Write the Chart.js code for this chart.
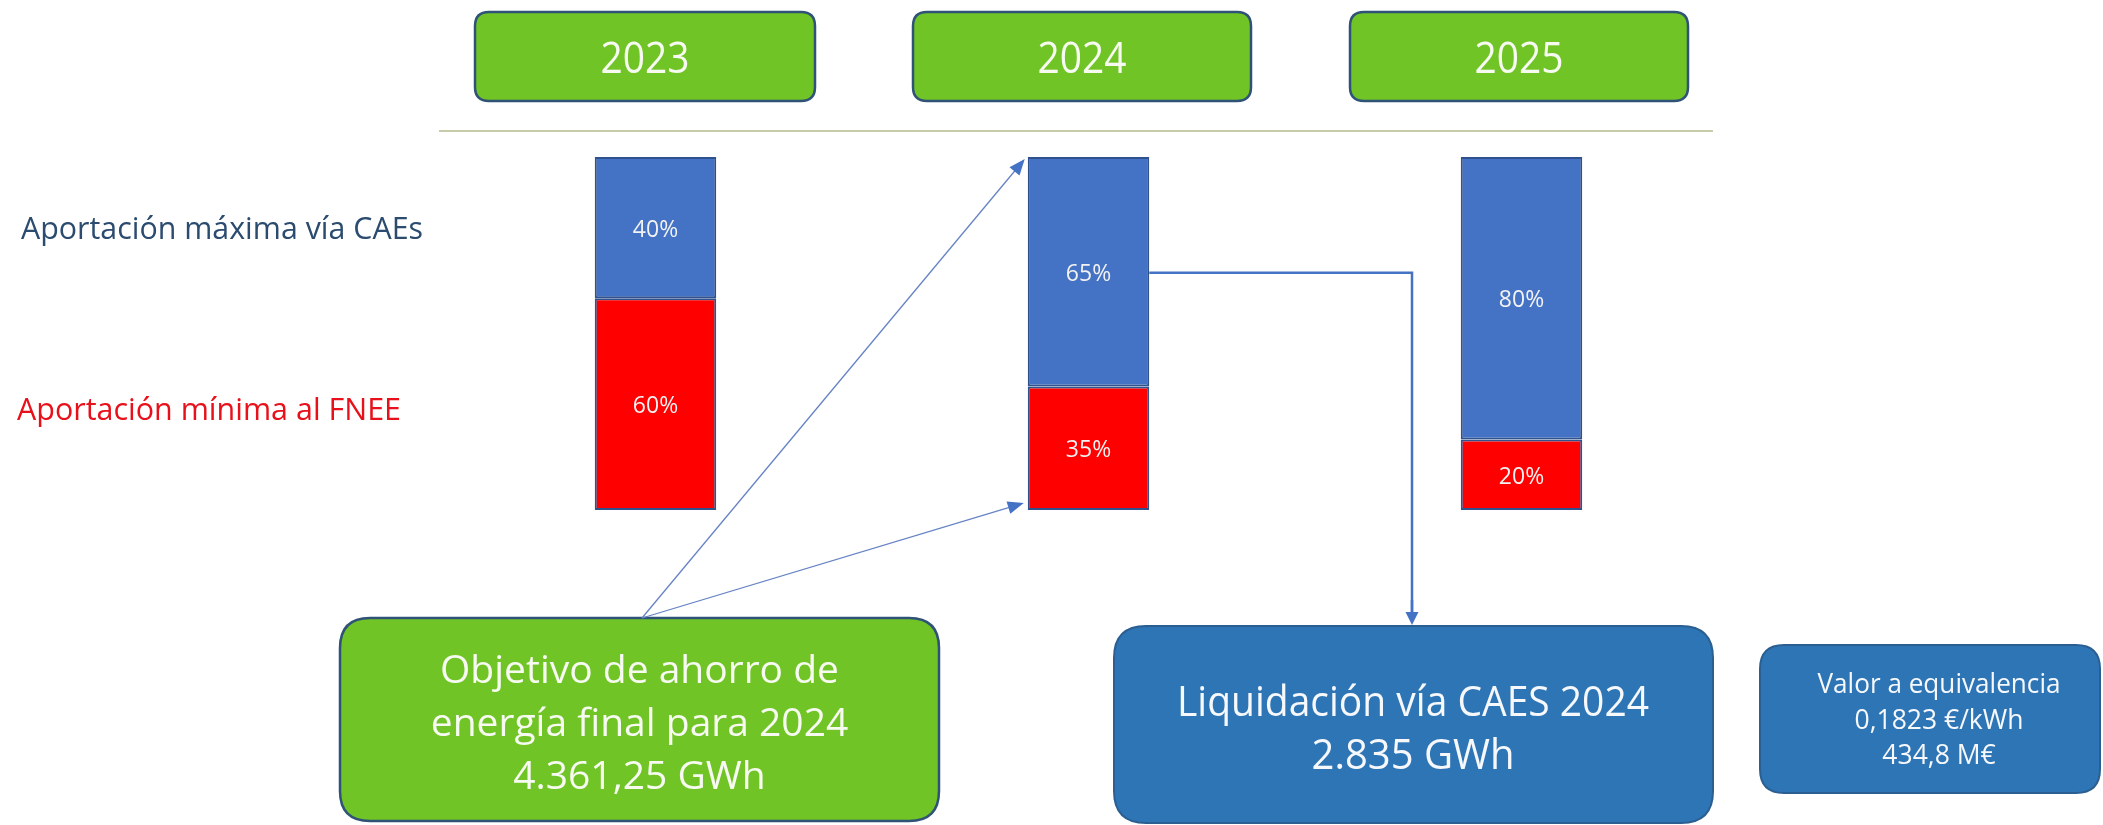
<!DOCTYPE html>
<html>
<head>
<meta charset="utf-8">
<script src="https://cdn.jsdelivr.net/npm/chart.js@4.4.1/dist/chart.umd.min.js"></script>
<style>
  html, body { margin: 0; padding: 0; background: #ffffff; }
  canvas { display: block; }
</style>
</head>
<body>
<canvas id="c" width="2103" height="825"></canvas>
<script>
// ---- data ----
const categories = ['2023', '2024', '2025'];
const fneeValues = [60, 35, 20];          // Aportación mínima al FNEE (red, bottom)
const caesValues = [40, 65, 80];          // Aportación máxima vía CAEs (blue, top)
const fneeLabel = 'Aportación mínima al FNEE';
const caesLabel = 'Aportación máxima vía CAEs';
const objetivoLines = ['Objetivo de ahorro de', 'energía final para 2024', '4.361,25 GWh'];
const liquidacionLines = ['Liquidación vía CAES 2024', '2.835 GWh'];
const valorLines = ['Valor a equivalencia', '0,1823 €/kWh', '434,8 M€'];

const FONT = '"Open Sans", "Noto Sans", sans-serif';

function roundRect(ctx, x, y, w, h, r, fill, stroke, lw) {
  ctx.save();
  ctx.beginPath();
  ctx.moveTo(x + r, y);
  ctx.lineTo(x + w - r, y);
  ctx.quadraticCurveTo(x + w, y, x + w, y + r);
  ctx.lineTo(x + w, y + h - r);
  ctx.quadraticCurveTo(x + w, y + h, x + w - r, y + h);
  ctx.lineTo(x + r, y + h);
  ctx.quadraticCurveTo(x, y + h, x, y + h - r);
  ctx.lineTo(x, y + r);
  ctx.quadraticCurveTo(x, y, x + r, y);
  ctx.closePath();
  ctx.fillStyle = fill;
  ctx.fill();
  if (stroke) { ctx.lineWidth = lw; ctx.strokeStyle = stroke; ctx.stroke(); }
  ctx.restore();
}

function text(ctx, s, x, y, size, maxW, color, align) {
  ctx.save();
  ctx.font = size + 'px ' + FONT;
  ctx.fillStyle = color;
  ctx.textAlign = align || 'center';
  ctx.textBaseline = 'alphabetic';
  const w = ctx.measureText(s).width;
  if (maxW && w > maxW) ctx.fillText(s, x, y, maxW); else ctx.fillText(s, x, y);
  ctx.restore();
}

function arrow(ctx, x1, y1, x2, y2, lw, lineColor, headLen, headW, headColor) {
  const ang = Math.atan2(y2 - y1, x2 - x1);
  const bx = x2 - headLen * Math.cos(ang), by = y2 - headLen * Math.sin(ang);
  ctx.save();
  ctx.strokeStyle = lineColor;
  ctx.lineWidth = lw;
  ctx.beginPath();
  ctx.moveTo(x1, y1);
  ctx.lineTo(bx + Math.cos(ang), by + Math.sin(ang));
  ctx.stroke();
  ctx.fillStyle = headColor;
  ctx.beginPath();
  ctx.moveTo(x2, y2);
  ctx.lineTo(bx + headW / 2 * Math.sin(ang), by - headW / 2 * Math.cos(ang));
  ctx.lineTo(bx - headW / 2 * Math.sin(ang), by + headW / 2 * Math.cos(ang));
  ctx.closePath();
  ctx.fill();
  ctx.restore();
}

const overlay = {
  id: 'overlay',
  beforeDraw(chart) {
    const ctx = chart.ctx;
    ctx.save();
    ctx.fillStyle = '#ffffff';
    ctx.fillRect(0, 0, chart.width, chart.height);
    ctx.restore();
  },
  afterDatasetsDraw(chart) {
    const ctx = chart.ctx;
    const red = chart.getDatasetMeta(0).data;
    const blue = chart.getDatasetMeta(1).data;

    // header year boxes
    const headers = [[475, 340], [913, 338], [1350, 338]];
    categories.forEach((c, i) => {
      const [hx, hw] = headers[i];
      roundRect(ctx, hx, 12, hw, 89, 14, '#71c425', '#2f5277', 2.5);
      text(ctx, c, hx + hw / 2, 73, 43, 89, '#f6faf0');
    });

    // separator line
    ctx.save();
    ctx.strokeStyle = '#c6cdaa';
    ctx.lineWidth = 2;
    ctx.beginPath();
    ctx.moveTo(439, 131);
    ctx.lineTo(1713, 131);
    ctx.stroke();
    ctx.restore();

    // percent labels in segments
    [red, blue].forEach((bars, d) => {
      const vals = d === 0 ? fneeValues : caesValues;
      bars.forEach((b, i) => {
        const cy = (b.y + b.base) / 2;
        text(ctx, vals[i] + '%', b.x, cy + 9, 23, 47, '#f2f2f2');
      });
    });

    // series labels on the left
    text(ctx, caesLabel, 21, 239, 30.5, 402, '#2b4b6f', 'left');
    text(ctx, fneeLabel, 17, 420, 30.5, 384, '#e8101a', 'left');

    // green objective box
    roundRect(ctx, 340, 618, 599, 203, 30, '#71c425', '#2f5277', 2.5);
    const oy = [683, 736, 789];
    objetivoLines.forEach((s, i) => text(ctx, s, 639.5, oy[i], 39, 420, '#f6faf0'));

    // arrows from green box to 2024 bar
    const b24 = blue[1], r24 = red[1];
    const leftEdge = b24.x - b24.width / 2;
    arrow(ctx, 642, 618, leftEdge - 3, b24.y + 2, 1.3, '#6683c4', 16, 13, '#4472c4');
    arrow(ctx, 642, 618, leftEdge - 4, r24.base - 7, 1.3, '#6683c4', 16, 13, '#4472c4');

    // blue liquidation box
    roundRect(ctx, 1114, 626, 599, 197, 32, '#2e75b6', '#2b5f92', 2);
    text(ctx, liquidacionLines[0], 1413, 716, 42, 472, '#f6f8fb');
    text(ctx, liquidacionLines[1], 1413, 769, 42, 203, '#f6f8fb');

    // connector from 65% segment to liquidation box
    const cy = (b24.y + b24.base) / 2 + 1;
    const rightEdge = b24.x + b24.width / 2;
    ctx.save();
    ctx.strokeStyle = '#4472c4';
    ctx.lineWidth = 2.5;
    ctx.beginPath();
    ctx.moveTo(rightEdge, cy);
    ctx.lineTo(1412, cy);
    ctx.lineTo(1412, 612);
    ctx.stroke();
    ctx.restore();
    arrow(ctx, 1412, 600, 1412, 625, 2.5, '#4472c4', 13, 13, '#4472c4');

    // value box
    roundRect(ctx, 1760, 645, 340, 148, 24, '#2e75b6', '#2b5f92', 2);
    const vy = [693, 729, 764];
    valorLines.forEach((s, i) => text(ctx, s, 1939, vy[i], 26.5, [243, 186, 124][i], '#f6f8fb'));
  }
};

new Chart(document.getElementById('c'), {
  type: 'bar',
  data: {
    labels: categories,
    datasets: [
      { label: fneeLabel, data: fneeValues, backgroundColor: '#ff0000', borderColor: '#2f528f', borderWidth: 2, borderSkipped: false },
      { label: caesLabel, data: caesValues, backgroundColor: '#4472c4', borderColor: '#2f528f', borderWidth: 2, borderSkipped: false }
    ]
  },
  options: {
    responsive: false,
    animation: false,
    devicePixelRatio: 1,
    layout: { padding: { left: 439, right: 365, top: 157, bottom: 315 } },
    datasets: { bar: { barPercentage: 0.2806, categoryPercentage: 1 } },
    scales: {
      x: { stacked: true, display: false },
      y: { stacked: true, display: false, min: 0, max: 100 }
    },
    plugins: { legend: { display: false }, tooltip: { enabled: false }, title: { display: false } }
  },
  plugins: [overlay]
});
</script>
</body>
</html>
